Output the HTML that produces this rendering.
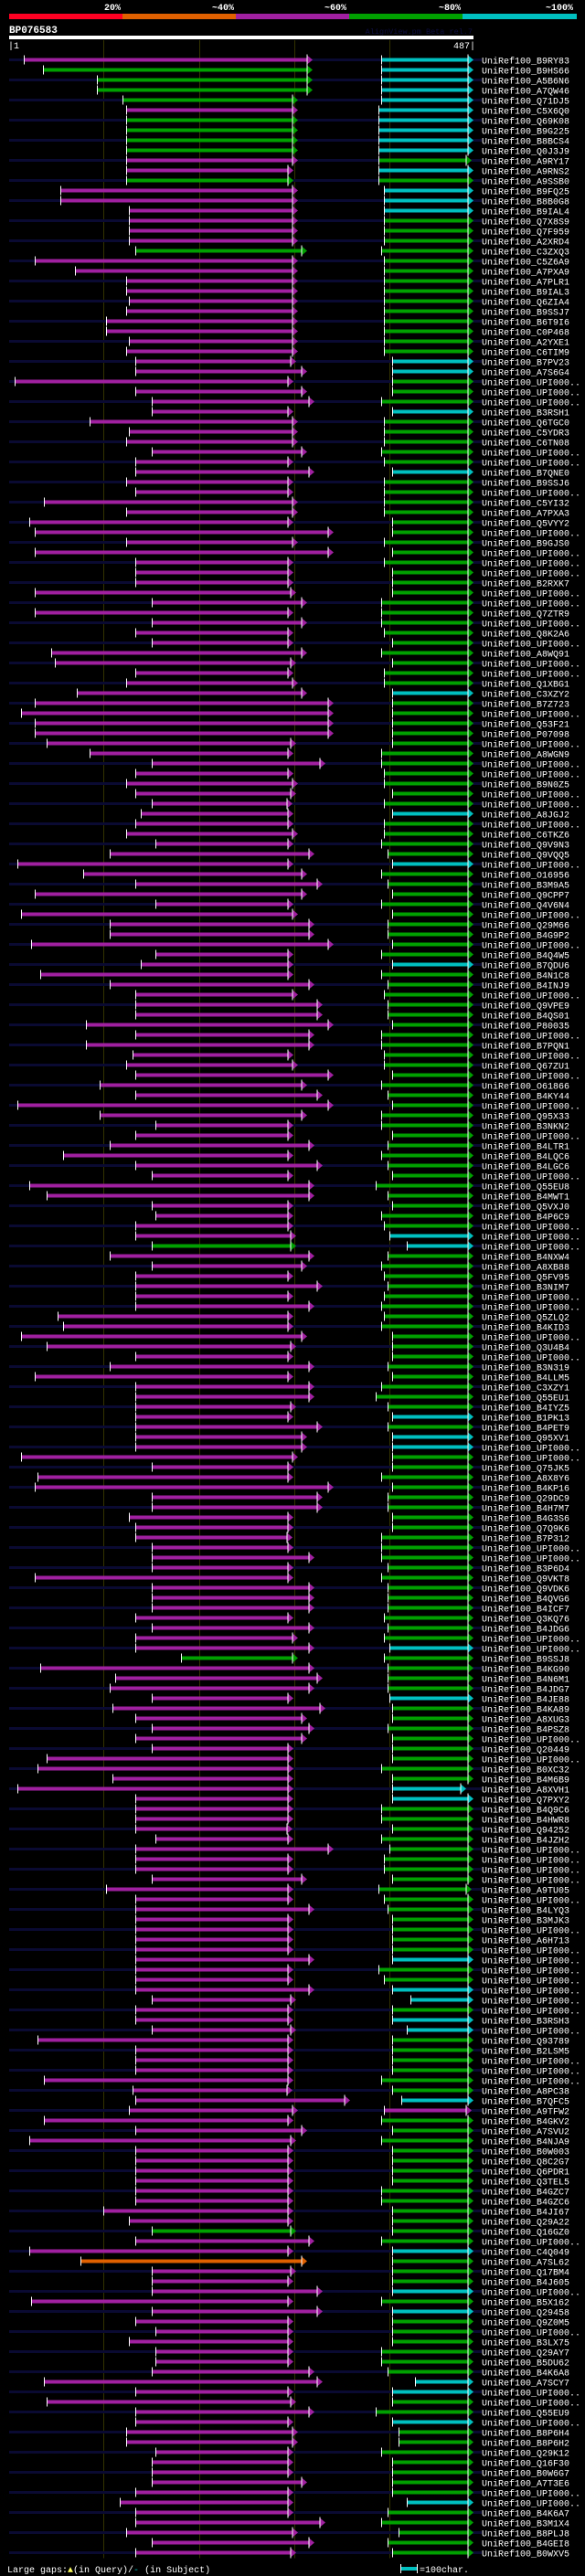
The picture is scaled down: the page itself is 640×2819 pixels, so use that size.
<!DOCTYPE html>
<html><head><meta charset="utf-8"><title>BP076583 alignment overview</title>
<style>
html,body{margin:0;padding:0;background:#000;}
svg{display:block;}
text{font-family:"Liberation Mono",monospace;}
</style></head>
<body>
<svg id="chart" width="640" height="2819" viewBox="0 0 640 2819" xmlns="http://www.w3.org/2000/svg">
<rect x="0" y="0" width="640" height="2819" fill="#000"/>
<g>
<rect x="10" y="15" width="124" height="6" fill="#ff0022"/>
<rect x="134" y="15" width="124" height="6" fill="#e06000"/>
<rect x="258" y="15" width="124" height="6" fill="#a020a0"/>
<rect x="382" y="15" width="124" height="6" fill="#00a000"/>
<rect x="506" y="15" width="125" height="6" fill="#00c0c0"/>
<text x="123" y="11" fill="#fff" font-size="10" font-weight="bold" text-anchor="middle">20%</text>
<text x="244" y="11" fill="#fff" font-size="10" font-weight="bold" text-anchor="middle">~40%</text>
<text x="367" y="11" fill="#fff" font-size="10" font-weight="bold" text-anchor="middle">~60%</text>
<text x="492" y="11" fill="#fff" font-size="10" font-weight="bold" text-anchor="middle">~80%</text>
<text x="612" y="11" fill="#fff" font-size="10" font-weight="bold" text-anchor="middle">~100%</text>
</g>
<text x="10" y="36" fill="#fff" font-size="11" font-weight="bold">BP076583</text>
<text x="517" y="37" fill="#0e0e40" font-size="8.5" text-anchor="end">AlignView.pm Beta rel.7</text>
<rect x="10" y="39" width="508" height="4" fill="#fff"/>
<text x="9" y="53" fill="#fff" font-size="10">|1</text>
<text x="520" y="53" fill="#fff" font-size="10" text-anchor="end">487|</text>
<g id="grid"></g>
<g id="rows"></g>
<g>
<text x="8" y="2815" fill="#fff" font-size="10">Large gaps:<tspan fill="#ffff60">▲</tspan>(in Query)/<tspan fill="#00c0c0">-</tspan> (in Subject)</text>
<rect x="439" y="2809" width="17" height="4" fill="#00c0c0"/>
<rect x="438" y="2806" width="1" height="10" fill="#fff"/>
<rect x="456" y="2806" width="1" height="10" fill="#fff"/>
<text x="459" y="2815" fill="#fff" font-size="10">=100char.</text>
</g>
</svg>
<script>
const queryLength = 487;
const gridTicks = [100, 200, 300, 400];
const names = ["B9RY83","B9HS66","A5B6N6","A7QW46","Q71DJ5","C5X6Q0","Q69K08","B9G225","B8BCS4","Q0J3J9",
"A9RY17","A9RNS2","A9SSB0","B9FQ25","B8B0G8","B9IAL4","Q7X8S9","Q7F959","A2XRD4","C3ZXQ3",
"C5Z6A9","A7PXA9","A7PLR1","B9IAL3","Q6ZIA4","B9SSJ7","B6T9I6","C0P468","A2YXE1","C6TIM9",
"B7PV23","A7S6G4","UPI000..","UPI000..","UPI000..","B3RSH1","Q6TGC0","C5YDR3","C6TN08","UPI000..",
"UPI000..","B7QNE0","B9SSJ6","UPI000..","C5YI32","A7PXA3","Q5VYY2","UPI000..","B9GJS0","UPI000..",
"UPI000..","UPI000..","B2RXK7","UPI000..","UPI000..","Q7ZTR9","UPI000..","Q8K2A6","UPI000..","A8WQ91",
"UPI000..","UPI000..","Q1XBG1","C3XZY2","B7Z723","UPI000..","Q53F21","P07098","UPI000..","A8WGN9",
"UPI000..","UPI000..","B9N0Z5","UPI000..","UPI000..","A8JGJ2","UPI000..","C6TKZ6","Q9V9N3","Q9VQQ5",
"UPI000..","O16956","B3M9A5","Q9CPP7","Q4V6N4","UPI000..","Q29M66","B4G9P2","UPI000..","B4Q4W5",
"B7QDU6","B4N1C8","B4INJ9","UPI000..","Q9VPE9","B4QS01","P80035","UPI000..","B7PQN1","UPI000..",
"Q67ZU1","UPI000..","O61866","B4KY44","UPI000..","Q95X33","B3NKN2","UPI000..","B4LTR1","B4LQC6",
"B4LGC6","UPI000..","Q55EU8","B4MWT1","Q5VXJ0","B4P6C9","UPI000..","UPI000..","UPI000..","B4NXW4",
"A8XB88","Q5FV95","B3NIM7","UPI000..","UPI000..","Q5ZLQ2","B4KID3","UPI000..","Q3U4B4","UPI000..",
"B3N319","B4LLM5","C3XZY1","Q55EU1","B4IYZ5","B1PK13","B4PET9","Q95XV1","UPI000..","UPI000..",
"Q75JK5","A8X8Y6","B4KP16","Q29DC9","B4H7M7","B4G3S6","Q7Q9K6","B7P312","UPI000..","UPI000..",
"B3P6D4","Q9VKT8","Q9VDK6","B4QVG6","B4ICF7","Q3KQ76","B4JDG6","UPI000..","UPI000..","B9SSJ8",
"B4KG90","B4N6M1","B4JDG7","B4JE88","B4KA89","A8XUG3","B4PSZ8","UPI000..","Q20449","UPI000..",
"B0XC32","B4M6B9","A8XVH1","Q7PXY2","B4Q9C6","B4HWR8","Q94252","B4JZH2","UPI000..","UPI000..",
"UPI000..","UPI000..","A9TU05","UPI000..","B4LYQ3","B3MJK3","UPI000..","A6H713","UPI000..","UPI000..",
"UPI000..","UPI000..","UPI000..","UPI000..","UPI000..","B3RSH3","UPI000..","Q93789","B2LSM5","UPI000..",
"UPI000..","UPI000..","A8PC38","B7QFC5","A9TFW2","B4GKV2","A7SVU2","B4NJA9","B0W003","Q8C2G7",
"Q6PDR1","Q3TEL5","B4GZC7","B4GZC6","B4JI67","Q29A22","Q16GZ0","UPI000..","C4Q049","A7SL62",
"Q17BM4","B4J605","UPI000..","B5X162","Q29458","Q9Z0M5","UPI000..","B3LX75","Q29AY7","B5DU62",
"B4K6A8","A7SCY7","UPI000..","UPI000..","Q55EU9","UPI000..","B8P6H4","B8P6H2","Q29K12","Q16F30",
"B0W6G7","A7T3E6","UPI000..","UPI000..","B4K6A7","B3M1X4","B8PLJ8","B4GEI8","B0WXV5"];
const queryStart = [15,35,92,92,119,123,123,123,123,123,
123,123,123,54,54,126,126,126,126,132,
27,69,123,123,126,123,102,102,126,123,
132,132,6,132,150,150,84,126,123,150,
132,132,123,132,36,123,21,27,123,27,
132,132,132,27,150,27,150,132,150,44,
48,132,123,71,27,12,27,27,39,84,
150,132,123,132,150,138,132,123,153,105,
9,78,132,27,153,12,105,105,23,153,
138,33,105,132,132,132,81,132,81,129,
123,132,95,132,9,95,153,132,105,57,
132,150,21,39,150,153,132,132,150,105,
150,132,132,132,132,51,57,12,39,132,
105,27,132,132,132,132,132,132,132,12,
150,30,27,150,150,126,132,132,150,150,
150,27,150,150,150,132,150,132,132,180,
33,111,105,150,108,132,150,132,150,39,
30,108,9,132,132,132,132,153,132,132,
132,150,102,132,132,132,132,132,132,132,
132,132,132,150,132,132,150,30,132,132,
132,36,129,132,126,36,132,21,132,132,
132,132,132,132,99,126,150,132,21,75,
150,150,150,23,150,132,153,126,153,153,
150,36,132,39,132,132,123,123,153,150,
150,150,132,116,132,132,123,150,132];
const queryEnd = [313,313,313,313,297,297,297,297,297,297,
297,292,292,297,297,297,297,297,297,307,
297,297,297,297,297,297,297,297,297,297,
295,307,292,307,314,292,297,297,297,307,
292,314,292,292,297,297,292,335,297,335,
292,292,292,295,307,292,307,292,292,307,
295,292,297,307,335,335,335,335,295,292,
326,292,297,295,291,292,292,297,292,314,
292,307,323,307,292,297,314,314,335,292,
292,292,314,297,323,323,335,314,314,292,
297,335,307,323,335,307,292,292,314,292,
323,292,314,314,292,292,292,295,295,314,
307,292,323,292,314,292,292,307,295,292,
314,292,314,314,295,292,323,307,307,297,
292,292,335,323,323,292,292,291,292,314,
292,292,314,314,314,292,314,297,314,297,
314,323,314,292,326,307,314,307,292,292,
292,292,292,292,292,292,291,292,335,292,
292,307,292,292,314,292,292,292,292,314,
292,292,314,295,292,292,295,292,292,292,
292,292,291,352,297,292,307,295,292,292,
292,292,292,292,292,292,295,314,292,307,
295,292,323,292,323,292,292,292,292,292,
314,323,292,295,314,292,297,297,292,292,
292,307,292,292,292,326,297,314,295];
const queryColor = ("mggggmgggg"+"mmgmmmmmmg"+"mmmmmmmmmm"+"mmmmmmmmmm"+"mmmmmmmmmm"+"mmmmmmmmmm"+"mmmmmmmmmm"+
"mmmmmmmmmm"+"mmmmmmmmmm"+"mmmmmmmmmm"+"mmmmmmmmmm"+"mmmmmmmmgm"+"mmmmmmmmmm"+"mmmmmmmmmm"+"mmmmmmmmmm"+
"mmmmmmmmmg"+"mmmmmmmmmm"+"mmmmmmmmmm"+"mmmmmmmmmm"+"mmmmmmmmmm"+"mmmmmmmmmm"+"mmmmmmgmmo"+"mmmmmmmmmm"+
"mmmmmmmmmm"+"mmmmmmmmm").split("");
const subjectStart = [390,390,390,390,390,387,387,387,387,387,
387,387,387,393,393,393,393,393,393,390,
393,393,393,393,393,393,393,393,393,393,
402,402,402,402,390,402,393,393,393,390,
393,402,393,393,393,393,402,402,393,402,
393,402,402,402,390,390,390,393,402,390,
402,393,393,402,402,402,402,402,402,390,
390,393,393,402,393,402,393,393,390,397,
402,390,397,402,390,402,397,397,402,390,
402,390,397,393,397,397,402,390,390,393,
393,402,390,397,402,390,390,402,397,390,
397,402,384,397,402,390,393,399,417,397,
390,393,397,393,390,393,390,402,402,402,
397,402,390,384,397,402,397,402,402,402,
402,390,402,397,397,402,402,390,390,390,
397,390,397,397,397,393,397,393,399,393,
397,397,397,399,402,402,397,402,402,402,
390,402,402,402,390,390,402,390,399,393,
393,402,387,393,397,402,402,402,402,402,
387,393,402,421,402,402,417,402,402,402,
402,390,402,411,393,390,402,390,402,402,
402,402,390,390,402,402,402,390,402,402,
402,402,402,390,402,402,402,402,390,390,
397,426,402,402,384,402,408,408,390,402,
402,402,402,417,397,390,408,397,402];
const subjectEnd = [481,481,481,481,481,481,481,481,481,481,
479,481,481,481,481,481,481,481,481,481,
481,481,481,481,481,481,481,481,481,481,
481,481,481,481,481,481,481,481,481,481,
481,481,481,481,481,481,481,481,481,481,
481,481,481,481,481,481,481,481,481,481,
481,481,481,481,481,481,481,481,481,481,
481,481,481,481,481,481,481,481,481,481,
481,481,481,481,481,481,481,481,481,481,
481,481,481,481,481,481,481,481,481,481,
481,481,481,481,481,481,481,481,481,481,
481,481,481,481,481,481,481,481,481,481,
481,481,481,481,481,481,481,481,481,481,
481,481,481,481,481,481,481,481,481,481,
481,481,481,481,481,481,481,481,481,481,
481,481,481,481,481,481,481,481,481,481,
481,481,481,481,481,481,481,481,481,481,
481,481,474,481,481,481,481,481,481,481,
481,481,479,481,481,481,481,481,481,481,
481,481,481,481,481,481,481,481,481,481,
481,481,481,481,479,481,481,481,481,481,
481,481,481,481,481,481,481,481,481,481,
481,481,481,481,481,481,481,481,481,481,
481,481,481,481,481,481,481,481,481,481,
481,481,481,481,481,481,481,481,481];
const subjectColor = ("cccccccccc"+"gcgcccgggg"+"gggggggggg"+"ccgggcgggg"+"gcgggggggg"+"gggggggggg"+"gggcgggggg"+
"gggggcgggg"+"cggggggggg"+"cggggggggg"+"gggggggggg"+"gggggggccg"+"gggggggggg"+"gggggcgccg"+"gggggggggg"+
"ggggggggcg"+"gggcgggggg"+"ggccgggggg"+"gggggggggc"+"ggccgccggg"+"gggcmggggg"+"ggggggggcg"+"ggcgcggggg"+
"gccggcgggg"+"gggcggggg").split("");

const NS = "http://www.w3.org/2000/svg";
const palette = {m:"#a020a0", g:"#00a000", c:"#00c0c0", o:"#e06000"};
const X0 = 10, X1 = 518;
function xScale(q){ return X0 + q * (X1 - X0) / queryLength; }
function rowY(i){ return 65.5 + 11 * i; }
function mk(tag, attrs, parent){
  const e = document.createElementNS(NS, tag);
  for (const k in attrs) e.setAttribute(k, attrs[k]);
  parent.appendChild(e);
  return e;
}
const grid = document.getElementById("grid");
const rows = document.getElementById("rows");
const lastY = rowY(names.length - 1) + 6;
gridTicks.forEach(function(t){
  const gx = Math.round(xScale(t)) - 0.5;
  const l = mk("line", {x1:gx, x2:gx, y1:44, y2:lastY, stroke:"#333300", "stroke-width":1}, grid);
  
  
});
function segment(g, xs, xe, y, color, prefix){
  const bar = mk("rect", {x:xs + 1, y:y - 2, width:Math.max(0, xe - xs - 1), height:4, fill:color}, g);
  
  
  const tick = mk("rect", {x:xs, y:y - 5, width:1, height:10, fill:"#fff"}, g);
  
  
  const arrow = mk("polygon", {points:(xe)+","+(y-5)+" "+(xe+6)+","+y+" "+(xe)+","+(y+5), fill:color}, g);
  
  
  const base = mk("rect", {x:xe - 0.5, y:y - 6, width:1, height:12, fill:"#fff"}, g);
  
  
}
names.forEach(function(nm, i){
  const y = rowY(i);
  const g = mk("g", {}, rows);
  
  
  if (i % 2 === 0){
    const bg = mk("rect", {x:10, y:y - 1.5, width:517, height:3, fill:"#0a0a32"}, g);
    
    
  }
  segment(g, Math.round(xScale(queryStart[i])), Math.round(xScale(queryEnd[i])), y, palette[queryColor[i]], 'query-hit');
  segment(g, Math.round(xScale(subjectStart[i])), Math.round(xScale(subjectEnd[i])), y, palette[subjectColor[i]], 'subject-hit');
  const t = mk("text", {x:527, y:y + 4, fill:"#fff", "font-size":10}, g);
  
  
  t.textContent = "UniRef100_" + nm;
});
</script>
</body></html>
